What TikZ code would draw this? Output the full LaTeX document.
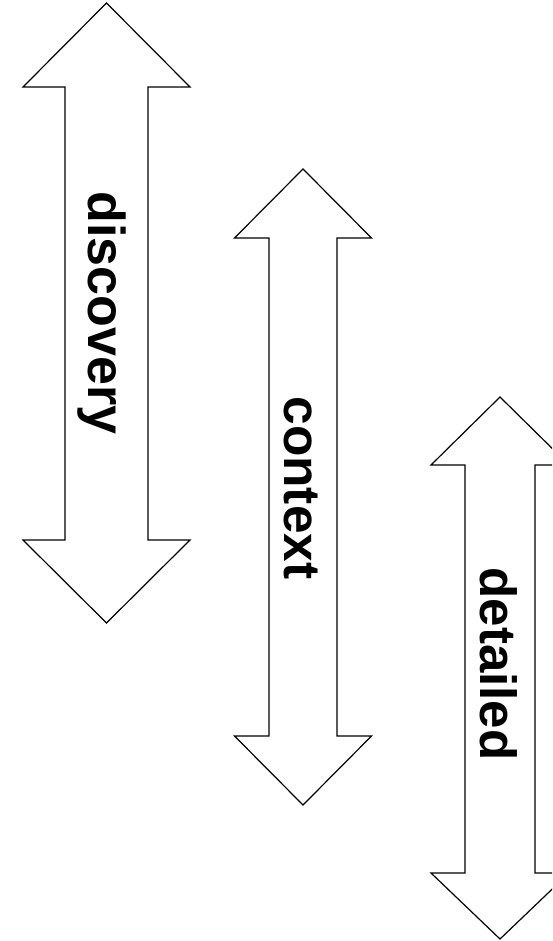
\documentclass[tikz,border=0pt]{standalone}
\usepackage{fontspec}
\setmainfont{Liberation Sans}
\newcommand{\dblarrow}[8]{%
  % #1 name, #2 cx, #3 top tip, #4 top base, #5 bottom base, #6 bottom tip, #7 half head, #8 half shaft
  \draw[arrowline] (#2,#3) -- (#2+#7,#4) -- (#2+#8,#4) -- (#2+#8,#5) -- (#2+#7,#5)
    -- (#2,#6) -- (#2-#7,#5) -- (#2-#8,#5) -- (#2-#8,#4) -- (#2-#7,#4) -- cycle;}
\begin{document}
\begin{tikzpicture}[x=1pt,y=-1pt,
  arrowline/.style={draw=black,line width=1.2pt,line join=miter,fill=white},
  label/.style={font=\bfseries\fontsize{52}{60}\selectfont,rotate=-90,anchor=base,inner sep=0pt}]
\useasboundingbox (0,0) rectangle (552,941);
\fill[white] (0,0) rectangle (552,941);
\clip (0,0) rectangle (552,941);
\dblarrow{a}{106.5}{3}{87}{540}{623}{83.5}{41.5}
\dblarrow{b}{303}{169}{238}{736}{805}{68.5}{34}
\dblarrow{c}{500}{397}{465}{873}{939}{69}{35}
\node[label] (discovery) at (88,313) {discovery};
\node[label,font=\bfseries\fontsize{51.4}{60}\selectfont] (context) at (284,488) {context};
\node[label,font=\bfseries\fontsize{51}{60}\selectfont] (detailed) at (480,664) {detailed};
\end{tikzpicture}
\end{document}
